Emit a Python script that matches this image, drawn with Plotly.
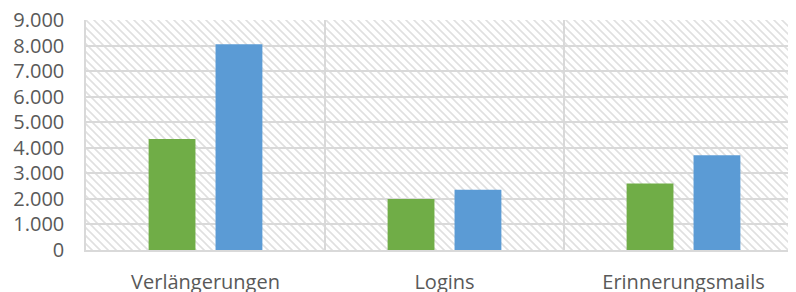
import base64
import plotly.graph_objects as go

categories = ["Verlängerungen", "Logins", "Erinnerungsmails"]
green_values = [4340, 2000, 2600]
blue_values = [8050, 2360, 3710]
y_tickvals = [0, 1000, 2000, 3000, 4000, 5000, 6000, 7000, 8000, 9000]
y_ticklabels = ["0", "1.000", "2.000", "3.000", "4.000", "5.000", "6.000", "7.000", "8.000", "9.000"]

GREEN = "#70AD47"
BLUE = "#5B9BD5"
GRID = "#D9D9D9"
TEXT = "#595959"
FONT = "Open Sans"

svg = (
    "<svg xmlns='http://www.w3.org/2000/svg' width='717' height='230' preserveAspectRatio='none'>"
    "<defs><pattern id='p' width='8' height='8' patternUnits='userSpaceOnUse'>"
    "<path d='M-1,-1 L9,9 M-1,7 L1,9 M7,-1 L9,1' stroke='#E0E0E0' stroke-width='1.6'/>"
    "</pattern></defs>"
    "<rect width='100%' height='100%' fill='white'/>"
    "<rect width='100%' height='100%' fill='url(#p)'/></svg>"
)
svg_uri = "data:image/svg+xml;base64," + base64.b64encode(svg.encode()).decode()

fig = go.Figure()
fig.add_trace(go.Bar(x=categories, y=green_values, name="Serie 1", marker=dict(color=GREEN, line=dict(width=0))))
fig.add_trace(go.Bar(x=categories, y=blue_values, name="Serie 2", marker=dict(color=BLUE, line=dict(width=0))))

# The page body adds an 8px offset, so the margins compensate for it.
fig.update_layout(
    width=796,
    height=292,
    margin=dict(l=78, r=1, t=12, b=50, autoexpand=False),
    paper_bgcolor="white",
    plot_bgcolor="white",
    showlegend=False,
    barmode="group",
    bargap=0.44,
    bargroupgap=0.3,
    font=dict(family=FONT, size=20, color=TEXT),
    images=[dict(source=svg_uri, xref="paper", yref="paper", x=0, y=1, sizex=1, sizey=1,
                 sizing="stretch", xanchor="left", yanchor="top", layer="below")],
)
fig.update_xaxes(
    type="category",
    range=[-0.5, 2.5],
    automargin=False,
    tickson="boundaries",
    showgrid=True,
    gridcolor=GRID,
    gridwidth=1.5,
    ticks="",
    showline=True,
    linecolor=GRID,
    linewidth=1.5,
    ticklabelstandoff=13,
    ticklabeloverflow="allow",
    tickfont=dict(family=FONT, size=20, color=TEXT),
)
fig.update_yaxes(
    range=[0, 9000],
    automargin=False,
    tickvals=y_tickvals,
    ticktext=y_ticklabels,
    showgrid=True,
    gridcolor=GRID,
    gridwidth=1.5,
    zeroline=False,
    showline=True,
    linecolor=GRID,
    linewidth=1.5,
    ticks="",
    ticklabelstandoff=16,
    ticklabeloverflow="allow",
    tickfont=dict(family=FONT, size=20, color=TEXT),
)

fig.write_html("out.html")
